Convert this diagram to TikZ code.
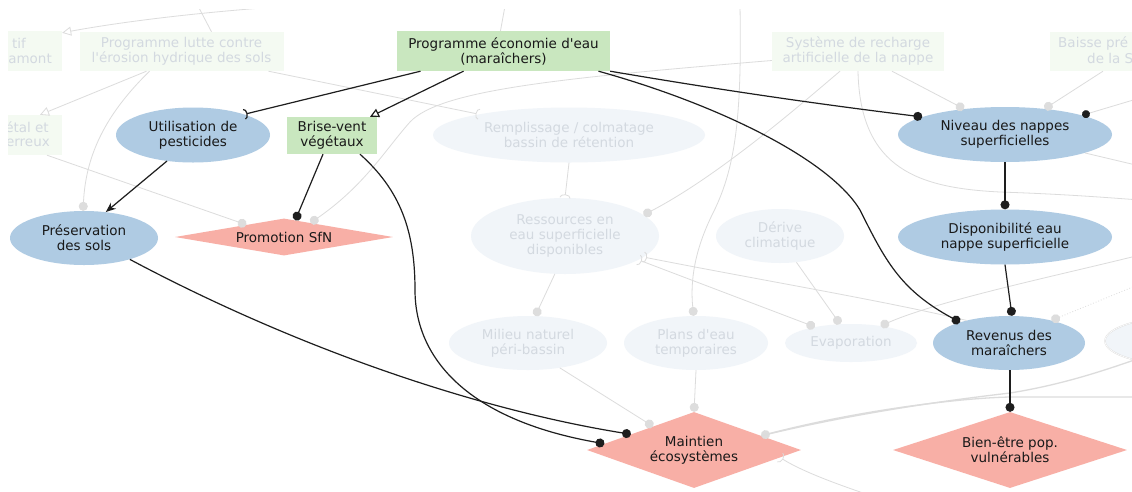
\documentclass[tikz,border=0pt]{standalone}
\usepackage{fontspec}
\setmainfont{DejaVu Sans}[Ligatures=TeXOff]
\usetikzlibrary{shapes.geometric,arrows.meta,calc}
\definecolor{cblue}{HTML}{AFCBE3}
\definecolor{csalmon}{HTML}{F8AFA6}
\definecolor{cgreen}{HTML}{C9E7BF}
\definecolor{fgreen}{HTML}{F4FAF2}
\definecolor{fblue}{HTML}{F1F5F9}
\definecolor{ftext}{HTML}{D3D9E0}
\definecolor{gline}{HTML}{DCDCDC}
\definecolor{gdotc}{HTML}{DDDDDD}
\definecolor{dline}{HTML}{1E1E1E}
\newcommand\mynf{\fontsize{13.5}{15}\selectfont}
\tikzset{
  bdot/.tip={Circle[length=9pt]},
  gdot/.tip={Circle[length=9pt,color=gdotc]},
  ddot/.tip={Circle[length=8pt,color=dline]},
  abarb/.tip={Arc Barb[reversed,length=3.5pt,width=11pt]},
  otri/.tip={Triangle[open,length=9pt,width=9pt,fill=white]},
}
\begin{document}
\begin{tikzpicture}[x=1pt,y=-1pt,
  every node/.style={font=\mynf, align=center, inner sep=0pt},
  hlbox/.style={rectangle, fill=cgreen, text=black!90},
  bell/.style={ellipse, fill=cblue, text=black!90},
  sdia/.style={diamond, fill=csalmon, text=black!90},
  fbox/.style={rectangle, fill=fgreen, text=ftext},
  fell/.style={ellipse, fill=fblue, text=ftext},
  ftxt/.style={text=ftext},
  gedge/.style={draw=gline, line width=0.8pt},
  dedge/.style={draw=dline, line width=1.2pt}]
\useasboundingbox[fill=white] (0,0) rectangle (1132,491);
\begin{scope}
\clip (8,9) rectangle (1132,491);
% faint nodes
\node[fbox, minimum width=124pt, minimum height=40pt] (tif) at (0,51) {};
\node[ftxt, anchor=east] (tifa) at (26,43.5) {tif};
\node[ftxt, anchor=east] (tifb) at (52,58.5) {amont};
\node[fbox, minimum width=204pt, minimum height=39pt] (lutte) at (181.5,51.5) {Programme lutte contre\\l'érosion hydrique des sols};
\node[fbox, minimum width=124pt, minimum height=40pt] (etal) at (0,135) {};
\node[ftxt, anchor=east] (etala) at (49,127.5) {étal et};
\node[ftxt, anchor=east] (etalb) at (50,142.5) {erreux};
\node[fell, minimum width=272pt, minimum height=55pt] (rempl) at (569,135) {Remplissage / colmatage\\bassin de rétention};
\node[fell, minimum width=188pt, minimum height=76pt] (ress) at (565,236) {Ressources en\\eau superficielle\\disponibles};
\node[fell, minimum width=128pt, minimum height=54pt] (derive) at (780,236) {Dérive\\climatique};
\node[fell, minimum width=158pt, minimum height=54pt] (milieu) at (528,343) {Milieu naturel\\péri-bassin};
\node[fell, minimum width=144pt, minimum height=54pt] (plans) at (696,343) {Plans d'eau\\temporaires};
\node[fell, minimum width=132pt, minimum height=38pt] (evap) at (851,343) {Evaporation};
\node[fbox, minimum width=172pt, minimum height=39pt] (recharge) at (858,51.5) {Système de recharge\\artificielle de la nappe};
\node[fbox, minimum width=140pt, minimum height=39pt] (baisse) at (1120,51.5) {};
\node[ftxt, anchor=west] (baissea) at (1058,43.5) {Baisse pré};
\node[ftxt, anchor=west] (baisseb) at (1087,58.5) {de la S};
\node[fell, draw=gline, double=white, minimum width=170pt, minimum height=50pt] (rell) at (1190,341) {};
% highlighted nodes
\node[hlbox, minimum width=213pt, minimum height=40pt] (eco) at (503.5,51) {Programme économie d'eau\\(maraîchers)};
\node[bell, minimum width=154pt, minimum height=55pt] (util) at (193,135) {Utilisation de\\pesticides};
\node[hlbox, minimum width=90pt, minimum height=37pt] (brise) at (332,135.5) {Brise-vent\\végétaux};
\node[bell, minimum width=148pt, minimum height=54pt] (pres) at (84,238) {Préservation\\des sols};
\node[sdia, aspect=5.9, minimum width=218pt, minimum height=37pt] (sfn) at (284,237) {Promotion SfN};
\node[bell, minimum width=214pt, minimum height=55pt] (niveau) at (1005,134.5) {Niveau des nappes\\superficielles};
\node[bell, minimum width=214pt, minimum height=55pt] (dispo) at (1005,237) {Disponibilité eau\\nappe superficielle};
\node[bell, minimum width=152pt, minimum height=54pt] (revenus) at (1009,343) {Revenus des\\maraîchers};
\node[sdia, aspect=2.8, minimum width=214pt, minimum height=76pt] (maintien) at (694,450) {Maintien\\écosystèmes};
\node[sdia, aspect=3.1, minimum width=234pt, minimum height=76pt] (bien) at (1010,450) {Bien-être pop.\\vulnérables};
% faint connectors
\coordinate (gA) at (290,6);
\coordinate (gB) at (198,6);
\coordinate (gC) at (505,6);
\coordinate (gD) at (740,6);
\coordinate (gE) at (1140,200);
\coordinate (gF) at (1140,98);
\coordinate (gG) at (1140,166);
\coordinate (gH) at (1140,255);
\coordinate (gI) at (1140,284);
\coordinate (gJ) at (1140,397);
\coordinate (gK) at (1140,358);
\coordinate (gL) at (875,497);
\draw[gedge, -{otri}] (gA) .. controls (200,12) and (120,22) .. ([yshift=-2pt]tif.north east);
\draw[gedge] (gB) -- ([xshift=30pt]lutte.north);
\draw[gedge, -{otri}] ([xshift=-35pt]lutte.south) -- ([xshift=40pt]etal.north);
\draw[gedge, -{gdot}] ([xshift=-32pt]lutte.south) .. controls (110,110) and (86,150) .. (pres.92);
\draw[gedge, -{abarb}] ([xshift=87pt]lutte.south) -- (rempl.167);
\draw[gedge, -{gdot}] ([xshift=47pt]etal.south) -- (sfn.162);
\draw[gedge, -{gdot}] ([yshift=-9pt]recharge.west) .. controls (560,78) and (440,90) .. (410,122) .. controls (385,150) and (365,185) .. (sfn.28);
\draw[gedge] (gC) -- ([xshift=-3pt]eco.north);
\draw[gedge, -{gdot}] (gD) .. controls (742,120) and (735,170) .. (712,215) .. controls (695,250) and (690,280) .. (plans.95);
\draw[gedge, -{gdot}] ([xshift=-18pt]recharge.south) .. controls (800,105) and (720,175) .. (ress.15);
\draw[gedge, -{gdot}] ([xshift=34pt]recharge.south) -- (niveau.148);
\draw[gedge] (recharge.south) .. controls (860,170) and (920,188) .. (1000,192) .. controls (1060,194) and (1100,197) .. (gE);
\draw[gedge, -{gdot}] ([xshift=-17pt]baisse.south) -- (niveau.33);
\draw[gedge, -{ddot}] (gF) -- (niveau.14);
\draw[gedge] (niveau.-13) -- (gG);
\draw[gedge, {abarb}-{gdot}] (ress.-18) -- (evap.156);
\draw[gedge, {abarb}-] (ress.-15) .. controls (760,280) and (880,300) .. (revenus.152);
\draw[gedge, -{gdot}] (derive.-58) -- (evap.120);
\draw[gedge, {gdot}-] (evap.30) .. controls (940,300) and (1060,275) .. (gH);
\draw[gedge, dotted, {gdot}-] (revenus.28) -- (gI);
\draw[gedge, -{gdot}] (ress.-105) -- (milieu.75);
\draw[gedge, -{abarb}] (rempl.-90) -- (ress.90);
\draw[gedge, -{gdot}] (milieu.-38) -- (maintien.150);
\draw[gedge, -{gdot}] (plans.south) -- (maintien.north);
\draw[gedge, line width=1.3pt, {gdot}-] (maintien.12) .. controls (860,410) and (960,398) .. (1010,397) -- (gJ);
\draw[gedge, line width=1.3pt] (maintien.12) .. controls (860,412) and (950,400) .. (1010,393) .. controls (1060,385) and (1100,372) .. (gK);
\draw[gedge, {abarb}-] (maintien.-5) .. controls (800,470) and (830,482) .. (gL);
% dark connectors
\draw[dedge, -{abarb}] ([xshift=-83pt]eco.south) -- (util.22);
\draw[dedge, -{otri}] ([xshift=-40pt]eco.south) -- ([xshift=38pt]brise.north);
\draw[dedge, -{bdot}] (eco.south east) .. controls (750,95) and (850,108) .. (niveau.168);
\draw[dedge, -{bdot}] ([xshift=95pt]eco.south) .. controls (720,105) and (830,160) .. (860,210) .. controls (885,260) and (900,290) .. (revenus.157);
\draw[dedge, -{Stealth[length=10pt,width=8pt]}] (util.-135) -- (pres.50);
\draw[dedge, -{bdot}] ([xshift=-9pt]brise.south) -- (sfn.56);
\draw[dedge, -{bdot}] ([xshift=28pt]brise.south) .. controls (400,190) and (415,230) .. (415,290) .. controls (415,360) and (470,420) .. (maintien.176);
\draw[dedge, -{bdot}] (pres.-25) .. controls (300,350) and (480,410) .. (maintien.166);
\draw[dedge, -{bdot}] (niveau.south) -- (dispo.north);
\draw[dedge, -{bdot}] (dispo.south) -- ([xshift=3pt]revenus.north);
\draw[dedge, -{bdot}] ([xshift=1pt]revenus.south) -- (bien.north);
\end{scope}
\end{tikzpicture}
\end{document}
